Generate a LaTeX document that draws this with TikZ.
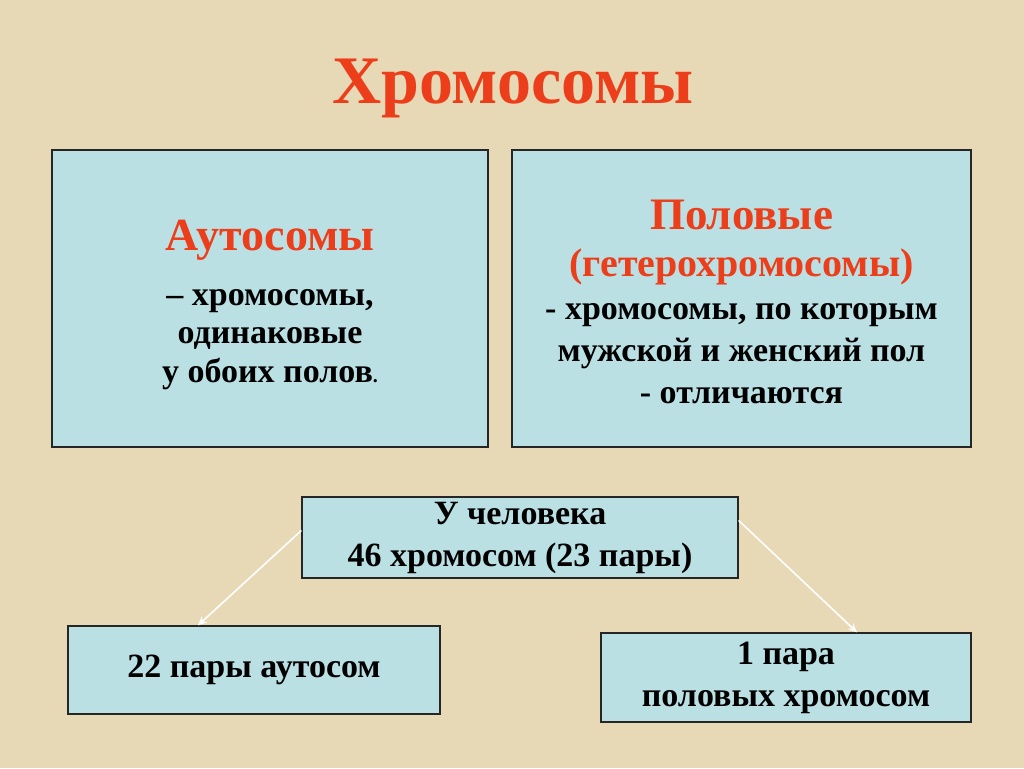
\documentclass[tikz,border=0pt]{standalone}
\usepackage{fontspec}
\setmainfont{Liberation Serif}
\usetikzlibrary{arrows.meta}

\definecolor{paper}{RGB}{232,217,182}
\definecolor{boxblue}{RGB}{186,224,228}
\definecolor{headred}{RGB}{236,62,26}

\tikzset{
  card/.style={draw=black!85, line width=1.3pt, fill=boxblue, inner sep=0pt,
    align=center, font=\bfseries\fontsize{34}{42}\selectfont},
  cardtext/.style={inner sep=0pt, align=center},
  pointer/.style={-{Stealth[length=9pt,width=8pt]}, draw=white, line width=1.6pt}
}

\begin{document}
\begin{tikzpicture}[x=1pt, y=-1pt]
    % Background
    \fill[paper] (0,0) rectangle (1024,768);
    \useasboundingbox (0,0) rectangle (1024,768);

    % Title
    \node[anchor=base, text=headred, font=\bfseries\fontsize{68}{74}\selectfont]
        (title) at (513,103) {Хромосомы};

    % Two kinds of chromosomes
    \node[card, minimum width=436pt, minimum height=297pt] (auto) at (270,298.5) {};
    \node[cardtext, font=\bfseries\fontsize{34}{38.5}\selectfont] (autotext) at (270,305)
        {{\color{headred}\fontsize{46}{50}\selectfont Аутосомы}\\[16pt]
         – хромосомы,\\ одинаковые\\ у обоих полов{\fontsize{20}{20}\selectfont .}};

    \node[card, minimum width=459pt, minimum height=297pt] (sex) at (741.5,298.5) {};
    \node[cardtext, font=\bfseries\fontsize{34}{42}\selectfont] (sextext) at (741.5,301.5)
        {{\color{headred}\fontsize{45}{50}\selectfont Половые}\\[5pt]
         {\color{headred}\fontsize{40}{44}\selectfont (гетерохромосомы)}\\[1pt]
         - хромосомы, по которым\\ мужской и женский пол\\ - отличаются};

    % Human set
    \node[card, minimum width=436pt, minimum height=81pt] (human) at (520,537.5)
        {У человека\\ 46 хромосом (23 пары)};

    \node[card, minimum width=372pt, minimum height=88pt] (pairs) at (254,670)
        {22 пары аутосом};

    \node[card, minimum width=370pt, minimum height=89pt] (onepair) at (786,677.5)
        {1 пара\\ половых хромосом};

    \draw[pointer] ([yshift=7pt]human.west) -- ([xshift=-56pt]pairs.north);
    \draw[pointer] ([yshift=17pt]human.east) -- ([xshift=71pt]onepair.north);
\end{tikzpicture}
\end{document}
